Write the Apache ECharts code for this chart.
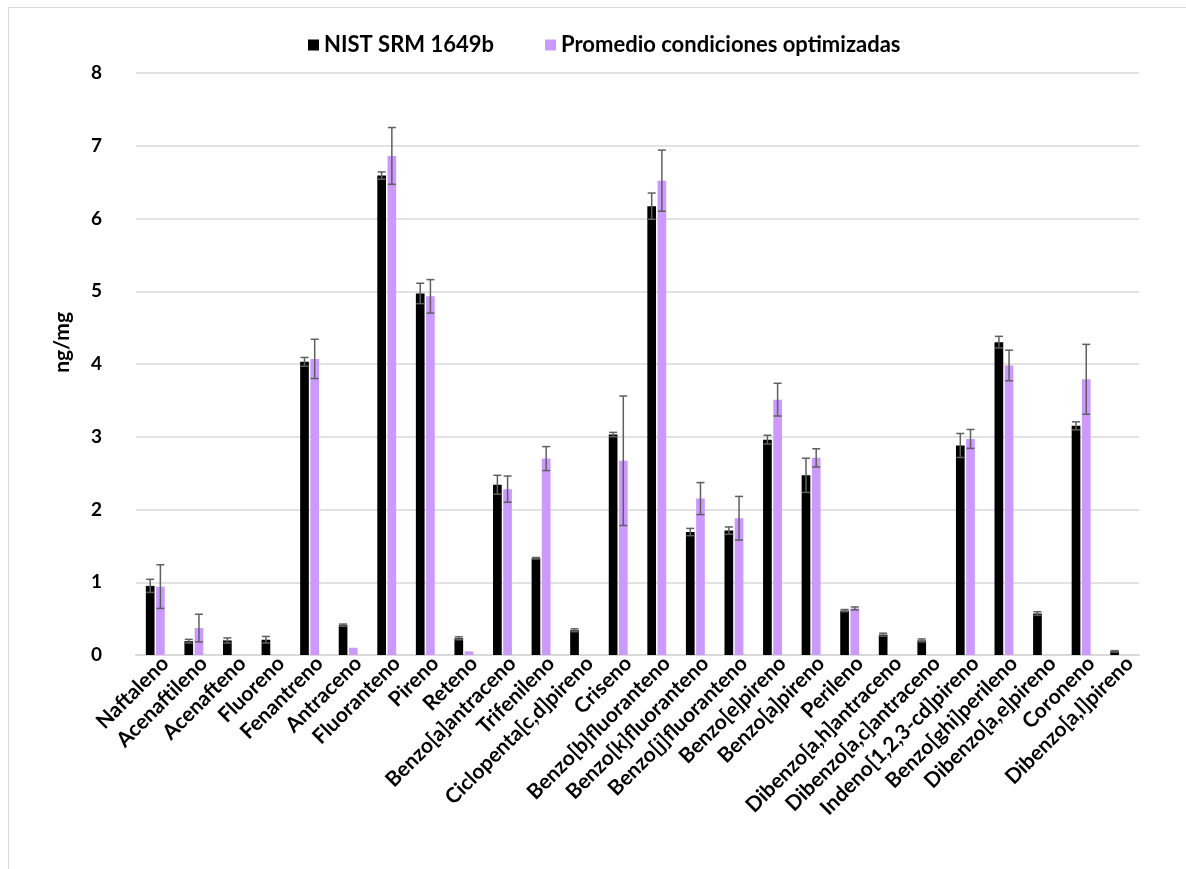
<!DOCTYPE html>
<html>
<head>
<meta charset="utf-8">
<script src="https://cdn.jsdelivr.net/npm/echarts@6/dist/echarts.min.js"></script>
<style>
html,body{margin:0;padding:0;background:#fff;overflow:hidden;}
#frame{position:absolute;left:8px;top:7px;width:1400px;height:1000px;border:1px solid #d9d9d9;box-sizing:border-box;}
#chart{position:absolute;left:0;top:0;width:1186px;height:869px;}
</style>
</head>
<body>
<div id="frame"></div>
<div id="chart"></div>
<script>
const categories = ["Naftaleno","Acenaftileno","Acenafteno","Fluoreno","Fenantreno","Antraceno","Fluoranteno","Pireno","Reteno","Benzo[a]antraceno","Trifenileno","Ciclopenta[c,d]pireno","Criseno","Benzo[b]fluoranteno","Benzo[k]fluoranteno","Benzo[j]fluoranteno","Benzo[e]pireno","Benzo[a]pireno","Perileno","Dibenzo[a,h]antraceno","Dibenzo[a,c]antraceno","Indeno[1,2,3-cd]pireno","Benzo[ghi]perileno","Dibenzo[a,e]pireno","Coroneno","Dibenzo[a,l]pireno"];
const nist =      [0.95,0.19,0.20,0.21,4.03,0.41,6.59,4.97,0.23,2.34,1.33,0.34,3.03,6.17,1.69,1.71,2.96,2.47,0.61,0.28,0.20,2.88,4.30,0.57,3.15,0.05];
const nistErr =   [0.09,0.025,0.035,0.045,0.06,0.015,0.05,0.14,0.02,0.13,0.01,0.02,0.03,0.18,0.05,0.05,0.06,0.235,0.015,0.02,0.02,0.165,0.08,0.025,0.055,0.01];
const promedio =  [0.94,0.37,null,null,4.07,0.10,6.86,4.93,0.05,2.28,2.70,null,2.67,6.52,2.15,1.88,3.51,2.71,0.64,null,null,2.97,3.98,null,3.79,null];
const promErr =   [0.30,0.19,null,null,0.27,null,0.39,0.23,null,0.18,0.165,null,0.89,0.42,0.22,0.30,0.225,0.125,0.02,null,null,0.13,0.21,null,0.48,null];
const yTicks = [0,1,2,3,4,5,6,7,8];
const seriesNames = ["NIST SRM 1649b","Promedio condiciones optimizadas"];

const BW = 8.7, GAP = 1.5;
const FONT = "Lato";

function errSeries(vals, errs, sign) {
  const data = [];
  vals.forEach((v, i) => { if (v != null && errs[i] != null) data.push([i, v, errs[i]]); });
  return {
    type: 'custom', silent: true, z: 5,
    data: data,
    encode: {x: 0, y: 1},
    renderItem: function (params, api) {
      const i = api.value(0), v = api.value(1), e = api.value(2);
      const top = api.coord([i, v + e]);
      const bot = api.coord([i, v - e]);
      const x = top[0] + sign * (BW + GAP) / 2;
      const cap = 4;
      const st = {stroke: '#5f5f5f', lineWidth: 1.5};
      return {type: 'group', children: [
        {type: 'line', shape: {x1: x, y1: top[1], x2: x, y2: bot[1]}, style: st},
        {type: 'line', shape: {x1: x - cap, y1: top[1], x2: x + cap, y2: top[1]}, style: st},
        {type: 'line', shape: {x1: x - cap, y1: bot[1], x2: x + cap, y2: bot[1]}, style: st}
      ]};
    }
  };
}

const legendText = {fontFamily: FONT, fontWeight: 'bold', fontSize: 22, color: '#000'};
const chart = echarts.init(document.getElementById('chart'), null, {renderer: 'canvas'});
chart.setOption({
  animation: false,
  backgroundColor: 'transparent',
  grid: [
    {left: 136, right: 47, top: 73, bottom: 214},
    {left: 146, right: 37, top: 73, bottom: 214}
  ],
  legend: [
    {top: 29, left: 303, itemWidth: 11, itemHeight: 11, icon: 'rect', data: [seriesNames[0]], textStyle: legendText},
    {top: 29, left: 540, itemWidth: 11, itemHeight: 11, icon: 'rect', data: [seriesNames[1]], textStyle: legendText}
  ],
  graphic: [{
    type: 'text', left: 52, top: 312, rotation: Math.PI / 2,
    style: {text: 'ng/mg', fontFamily: FONT, fontWeight: 'bold', fontSize: 21, fill: '#000'}
  }],
  xAxis: [{
    type: 'category', data: categories, gridIndex: 0,
    axisLine: {lineStyle: {color: '#d9d9d9', width: 2}},
    axisTick: {show: false},
    axisLabel: {show: false}
  }, {
    type: 'category', data: categories, gridIndex: 1,
    axisLine: {show: false},
    axisTick: {show: false},
    axisLabel: {rotate: 45, interval: 0, margin: 5, fontFamily: FONT, fontWeight: 'bold', fontSize: 21, color: '#000'}
  }],
  yAxis: [{
    type: 'value', min: 0, max: 8, interval: 1, gridIndex: 0,
    axisLine: {show: false}, axisTick: {show: false},
    splitLine: {lineStyle: {color: '#d9d9d9', width: 1.5}},
    axisLabel: {margin: 34, fontFamily: FONT, fontWeight: 'bold', fontSize: 19, color: '#000',
      formatter: v => yTicks.includes(v) ? String(v) : ''}
  }, {
    type: 'value', min: 0, max: 8, interval: 1, gridIndex: 1, show: false
  }],
  series: [
    {name: seriesNames[0], type: 'bar', data: nist, barWidth: BW, barGap: (GAP / BW * 100) + '%',
     itemStyle: {color: '#000000'}},
    {name: seriesNames[1], type: 'bar', data: promedio, barWidth: BW,
     itemStyle: {color: '#cc99ff'}},
    errSeries(nist, nistErr, -1),
    errSeries(promedio, promErr, 1)
  ]
});
</script>
</body>
</html>
